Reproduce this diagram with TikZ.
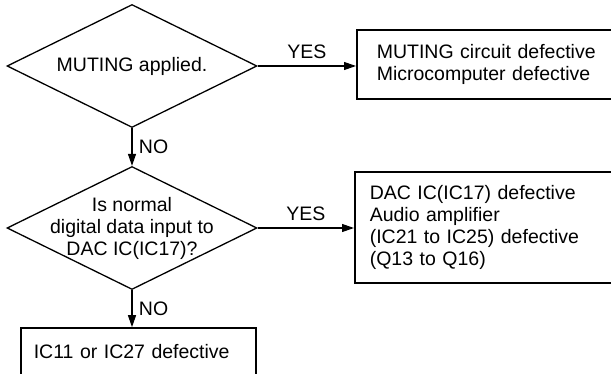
\documentclass[tikz,border=0pt]{standalone}
\usepackage{fontspec}
\setmainfont{Liberation Sans}
\usepackage{tikz}
\usetikzlibrary{arrows.meta,shapes.geometric,positioning}

\begin{document}
\begin{tikzpicture}[x=1pt,y=-1pt,
                    font=\fontsize{19.5}{22}\selectfont,
                    line width=1.2pt,
                    >={Triangle[length=12pt,width=8pt]},
                    decision/.style={diamond,draw,line width=1.3pt,inner sep=0pt,
                                     minimum width=250pt,minimum height=123pt},
                    result/.style={rectangle,draw,line width=1.6pt,align=left,anchor=west}]

  \useasboundingbox (0,0) rectangle (611,374);

  \node[decision,label={[align=center]center:MUTING applied.}] (mute) at (132,66) {};
  \node[decision,label={[align=center]center:Is normal\\digital data input to\\DAC IC(IC17)?}] (dac) at (132,228) {};

  \node[result,minimum height=69pt,text width=236pt,inner xsep=20pt] (micom) at (356,64.5)
       {MUTING circuit defective\\Microcomputer defective};
  \node[result,minimum height=111pt,text width=243pt,inner xsep=15pt] (amp) at (354,227.5)
       {DAC IC(IC17) defective\\Audio amplifier\\(IC21 to IC25) defective\\(Q13 to Q16)};
  \node[result,minimum height=47pt,text width=209pt,inner xsep=13pt] (ic) at (20,351.5)
       {IC11 or IC27 defective};

  % yes branches
  \draw[->] (mute.east) -- node[above=3pt] {YES} (mute.east -| micom.west);
  \draw[->] (dac.east) -- node[above=3pt] {YES} (dac.east -| amp.west);

  % no branches
  \draw[->] (mute.south) -- node[right=3pt] {NO} (dac.north);
  \draw[->] (dac.south) -- node[right=3pt] {NO} (dac.south |- ic.north);

\end{tikzpicture}
\end{document}
